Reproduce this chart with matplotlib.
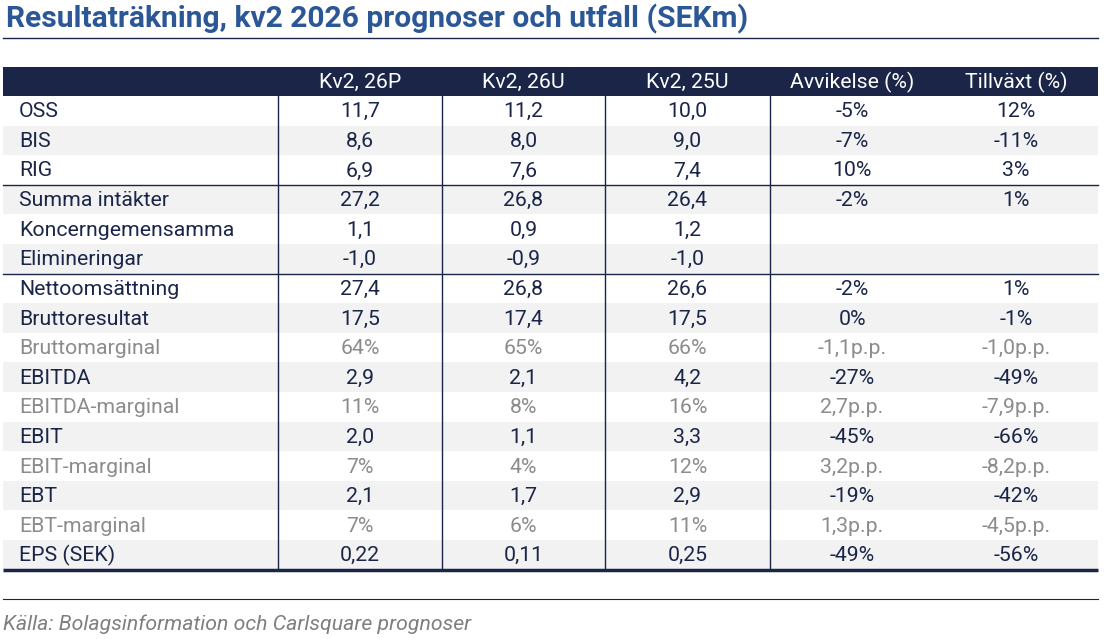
import matplotlib.pyplot as plt
from matplotlib.patches import Rectangle

plt.rcParams['font.family'] = ['Roboto', 'DejaVu Sans']

# table content
title = "Resultaträkning, kv2 2026 prognoser och utfall (SEKm)"
source = "Källa: Bolagsinformation och Carlsquare prognoser"
headers = ["Kv2, 26P", "Kv2, 26U", "Kv2, 25U", "Avvikelse (%)", "Tillväxt (%)"]
labels = ["OSS", "BIS", "RIG", "Summa intäkter", "Koncerngemensamma", "Elimineringar",
          "Nettoomsättning", "Bruttoresultat", "Bruttomarginal", "EBITDA", "EBITDA-marginal",
          "EBIT", "EBIT-marginal", "EBT", "EBT-marginal", "EPS (SEK)"]
kv2_26p = ["11,7", "8,6", "6,9", "27,2", "1,1", "-1,0", "27,4", "17,5", "64%", "2,9",
           "11%", "2,0", "7%", "2,1", "7%", "0,22"]
kv2_26u = ["11,2", "8,0", "7,6", "26,8", "0,9", "-0,9", "26,8", "17,4", "65%", "2,1",
           "8%", "1,1", "4%", "1,7", "6%", "0,11"]
kv2_25u = ["10,0", "9,0", "7,4", "26,4", "1,2", "-1,0", "26,6", "17,5", "66%", "4,2",
           "16%", "3,3", "12%", "2,9", "11%", "0,25"]
avvikelse = ["-5%", "-7%", "10%", "-2%", "", "", "-2%", "0%", "-1,1p.p.", "-27%",
             "2,7p.p.", "-45%", "3,2p.p.", "-19%", "1,3p.p.", "-49%"]
tillvaxt = ["12%", "-11%", "3%", "1%", "", "", "1%", "-1%", "-1,0p.p.", "-49%",
            "-7,9p.p.", "-66%", "-8,2p.p.", "-42%", "-4,5p.p.", "-56%"]
margin_rows = ["Bruttomarginal", "EBITDA-marginal", "EBIT-marginal", "EBT-marginal"]
section_breaks = [3, 6]   # line drawn above these rows

navy = "#1a2548"
blue = "#2b5797"
grey_txt = "#8c8c8c"
stripe = "#f2f2f2"

W, H = 1115, 639
fig = plt.figure(figsize=(W / 100, H / 100), dpi=100)
ax = fig.add_axes([0, 0, 1, 1])
ax.set_xlim(0, W)
ax.set_ylim(H, 0)
ax.axis("off")

left, right = 3, 1098
edges = [left, 278, 442, 605, 770, 934, right]
head_top, head_bot = 67, 96
row_h = 29.6
fs = 15.3

# title
ax.text(6, 19, title, fontsize=21.6, fontweight="bold", color=blue, va="center", ha="left")
ax.plot([left, right], [37.5, 37.5], color=navy, lw=1)

# header
ax.add_patch(Rectangle((left, head_top), right - left, head_bot - head_top, color=navy, lw=0))
for j, h in enumerate(headers):
    cx = (edges[j + 1] + edges[j + 2]) / 2
    ax.text(cx, (head_top + head_bot) / 2 + 1, h, fontsize=fs, color="white",
            ha="center", va="center")

cols = [kv2_26p, kv2_26u, kv2_25u, avvikelse, tillvaxt]
for i, lab in enumerate(labels):
    y0 = head_bot + i * row_h
    if i % 2 == 1:
        ax.add_patch(Rectangle((left, y0), right - left, row_h, color=stripe, lw=0))
    col = grey_txt if lab in margin_rows else navy
    yc = y0 + row_h / 2 + 1
    ax.text(19, yc, lab, fontsize=fs, color=col, ha="left", va="center")
    for j, c in enumerate(cols):
        cx = (edges[j + 1] + edges[j + 2]) / 2
        ax.text(cx, yc, c[i], fontsize=fs, color=col, ha="center", va="center")

bottom = head_bot + len(labels) * row_h
for b in section_breaks:
    y = head_bot + b * row_h
    ax.plot([left, right], [y, y], color=navy, lw=1)
for x in edges[1:5]:
    ax.plot([x, x], [head_bot, bottom], color=navy, lw=1)
ax.plot([left, right], [bottom, bottom], color=navy, lw=2.5, solid_capstyle="butt")

# footer
ax.plot([left, right], [599, 599], color=navy, lw=0.8)
ax.text(3, 624, source, fontsize=15.3, style="italic", color="#7f7f7f", ha="left", va="center")

fig.savefig("out.png", dpi=100)
